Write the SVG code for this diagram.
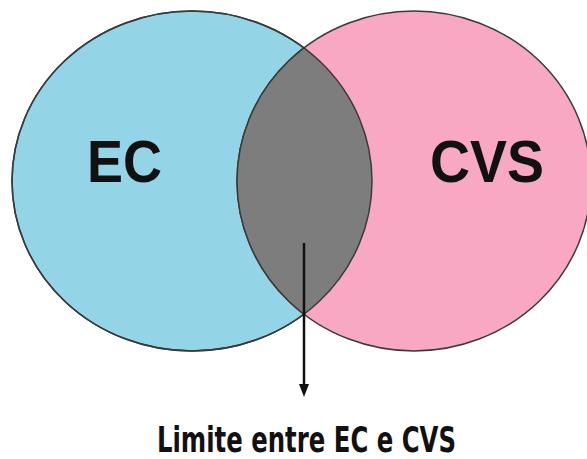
<svg xmlns="http://www.w3.org/2000/svg" width="587" height="459" viewBox="0 0 587 459">
<style>
.outline{stroke:#3a3a3a;stroke-width:1.5;}
.big{font-family:"Liberation Sans",Arial,sans-serif;font-weight:bold;font-size:60px;fill:#111;}
.lbl{font-family:"DejaVu Sans Condensed","Liberation Sans Narrow","Liberation Sans",sans-serif;font-weight:bold;font-size:36px;fill:#111;}
</style>
<defs>
<clipPath id="clipL"><ellipse cx="192" cy="181" rx="180" ry="170"/></clipPath>
</defs>
<rect width="587" height="459" fill="#ffffff"/>
<g id="ec">
<ellipse cx="192" cy="181" rx="180" ry="170" fill="#93d4e7" class="outline"/>
</g>
<g id="cvs">
<ellipse cx="414" cy="181" rx="177" ry="170" fill="#f8a8c3" class="outline"/>
</g>
<g id="intersection">
<ellipse cx="414" cy="181" rx="177" ry="170" fill="#7d7d7d" clip-path="url(#clipL)"/>
<ellipse cx="414" cy="181" rx="177" ry="170" fill="none" class="outline" clip-path="url(#clipL)"/>
<ellipse cx="192" cy="181" rx="180" ry="170" fill="none" class="outline"/>
</g>
<g id="labels">
<text class="big" x="87" y="182" textLength="75" lengthAdjust="spacingAndGlyphs">EC</text>
<text class="big" x="430" y="182" textLength="114" lengthAdjust="spacingAndGlyphs">CVS</text>
</g>
<g id="connectors">
<line x1="304" y1="243" x2="304" y2="386" stroke="#111" stroke-width="2.5"/>
<polygon points="299,384 309,384 304,397" fill="#111"/>
</g>
<g id="caption">
<text class="lbl" x="157" y="452" textLength="299" lengthAdjust="spacingAndGlyphs">Limite entre EC e CVS</text>
</g>
</svg>
